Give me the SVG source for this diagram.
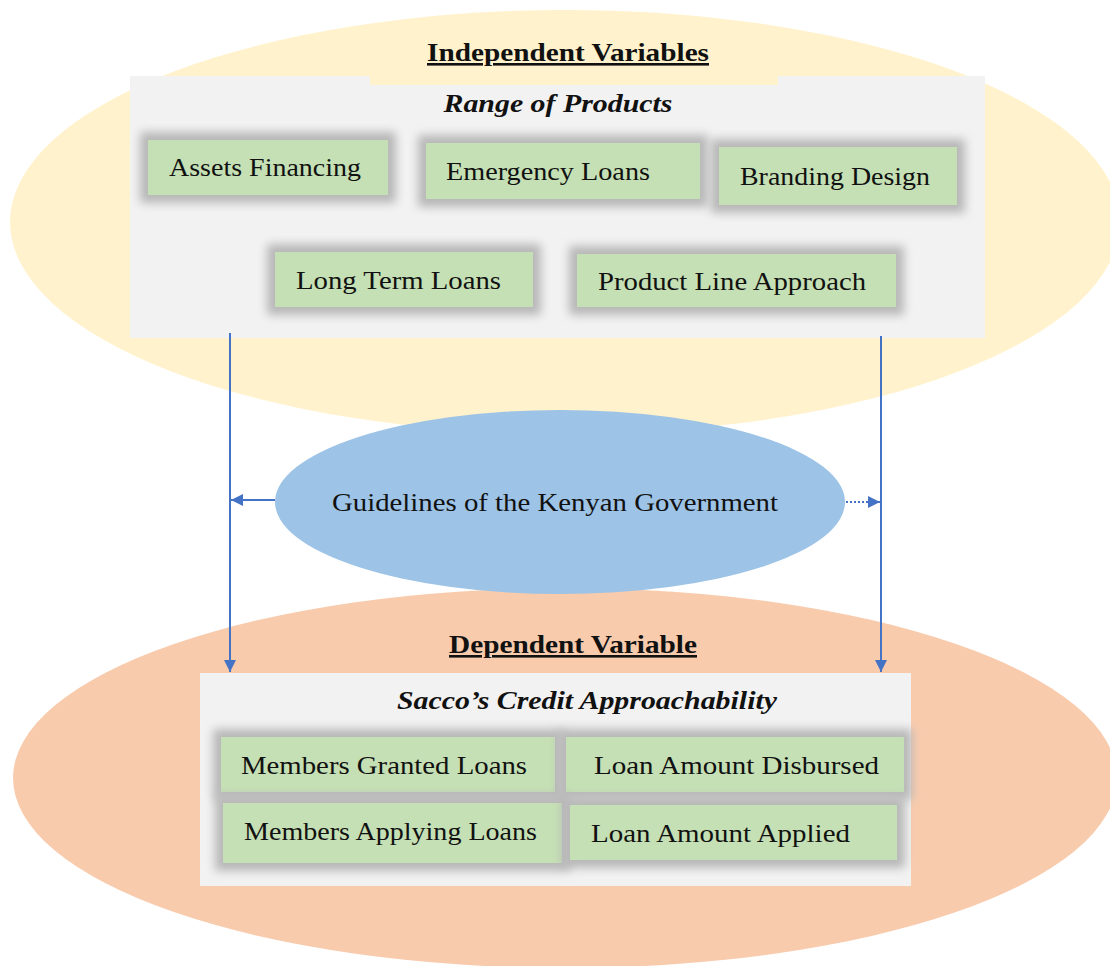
<svg xmlns="http://www.w3.org/2000/svg" width="1110" height="966" viewBox="0 0 1110 966">
<defs>
<filter id="blur" x="-20%" y="-40%" width="140%" height="180%"><feGaussianBlur stdDeviation="5"/></filter>
<marker id="ah" viewBox="0 0 10 10" refX="10" refY="5" markerWidth="6" markerHeight="6.5" markerUnits="strokeWidth" orient="auto"><path d="M0,0 L10,5 L0,10 z" fill="#4472C4"/></marker>
</defs>
<style>
.t{font-family:"Liberation Serif","Times New Roman",serif;fill:#111;font-size:26px}
.h{font-weight:bold;text-decoration:underline}
.bi{font-weight:bold;font-style:italic}
.box{fill:#C5E0B4}
.sh{fill:#B8B8B8;filter:url(#blur)}
.panel{fill:#F2F2F2}
.c{stroke:#4472C4;stroke-width:2;fill:none}
</style>
<rect width="1110" height="966" fill="#FFFFFF"/>
<g id="independent">
<ellipse cx="565" cy="222" rx="555" ry="212" fill="#FFF2CC"/>
<rect class="panel" x="130" y="76" width="855" height="262"/>
<rect x="370" y="38" width="408" height="47" fill="#FFF2CC"/>
<text class="t h" x="568" y="61" text-anchor="middle" textLength="282" lengthAdjust="spacingAndGlyphs">Independent Variables</text>
<text class="t bi" x="558" y="112" text-anchor="middle" textLength="229" lengthAdjust="spacingAndGlyphs">Range of Products</text>
</g>
<g id="n-assets">
<rect class="sh" x="140" y="132" width="256" height="71"/>
<rect class="box" x="148" y="140" width="240" height="55"/>
<text class="t" x="169" y="176" textLength="192" lengthAdjust="spacingAndGlyphs">Assets Financing</text>
</g>
<g id="n-emergency">
<rect class="sh" x="418" y="135" width="290" height="72"/>
<rect class="box" x="426" y="143" width="274" height="56"/>
<text class="t" x="446" y="180" textLength="204" lengthAdjust="spacingAndGlyphs">Emergency Loans</text>
</g>
<g id="n-branding">
<rect class="sh" x="711" y="139" width="254" height="74"/>
<rect class="box" x="719" y="147" width="238" height="58"/>
<text class="t" x="740" y="185" textLength="190" lengthAdjust="spacingAndGlyphs">Branding Design</text>
</g>
<g id="n-longterm">
<rect class="sh" x="267" y="244" width="274" height="71"/>
<rect class="box" x="275" y="252" width="258" height="55"/>
<text class="t" x="296" y="289" textLength="205" lengthAdjust="spacingAndGlyphs">Long Term Loans</text>
</g>
<g id="n-productline">
<rect class="sh" x="569" y="246" width="335" height="69"/>
<rect class="box" x="577" y="254" width="319" height="53"/>
<text class="t" x="598" y="290" textLength="268" lengthAdjust="spacingAndGlyphs">Product Line Approach</text>
</g>
<g id="dependent">
<ellipse cx="565" cy="778" rx="552" ry="190" fill="#F8CBAD"/>
<rect class="panel" x="200" y="673" width="711" height="213"/>
<text class="t h" x="573" y="653" text-anchor="middle" textLength="248" lengthAdjust="spacingAndGlyphs">Dependent Variable</text>
<text class="t bi" x="587" y="709" text-anchor="middle" textLength="380" lengthAdjust="spacingAndGlyphs">Sacco’s Credit Approachability</text>
</g>
<g id="n-granted">
<rect class="sh" x="213" y="729" width="350" height="71"/>
<rect class="box" x="221" y="737" width="334" height="55"/>
<text class="t" x="241" y="774" textLength="286" lengthAdjust="spacingAndGlyphs">Members Granted Loans</text>
</g>
<g id="n-disbursed">
<rect class="sh" x="558" y="729" width="354" height="71"/>
<rect class="box" x="566" y="737" width="338" height="55"/>
<text class="t" x="594" y="774" textLength="285" lengthAdjust="spacingAndGlyphs">Loan Amount Disbursed</text>
</g>
<g id="n-applying">
<rect class="sh" x="215" y="795" width="355" height="76"/>
<rect class="box" x="223" y="803" width="339" height="60"/>
<text class="t" x="244" y="840" textLength="293" lengthAdjust="spacingAndGlyphs">Members Applying Loans</text>
</g>
<g id="n-applied">
<rect class="sh" x="562" y="797" width="343" height="71"/>
<rect class="box" x="570" y="805" width="327" height="55"/>
<text class="t" x="591" y="842" textLength="259" lengthAdjust="spacingAndGlyphs">Loan Amount Applied</text>
</g>
<g id="guidelines">
<ellipse cx="560" cy="502" rx="285" ry="92" fill="#9DC3E6"/>
<text class="t" x="555" y="511" text-anchor="middle" font-size="28" textLength="446" lengthAdjust="spacingAndGlyphs">Guidelines of the Kenyan Government</text>
</g>
<g id="connectors">
<line class="c" x1="230" y1="333" x2="230" y2="672" marker-end="url(#ah)"/>
<line class="c" x1="881" y1="336" x2="881" y2="672" marker-end="url(#ah)"/>
<line class="c" x1="275" y1="500" x2="231" y2="500" marker-end="url(#ah)"/>
<line class="c" x1="846" y1="502" x2="880" y2="502" stroke-dasharray="2,2" marker-end="url(#ah)"/>
</g>
</svg>
